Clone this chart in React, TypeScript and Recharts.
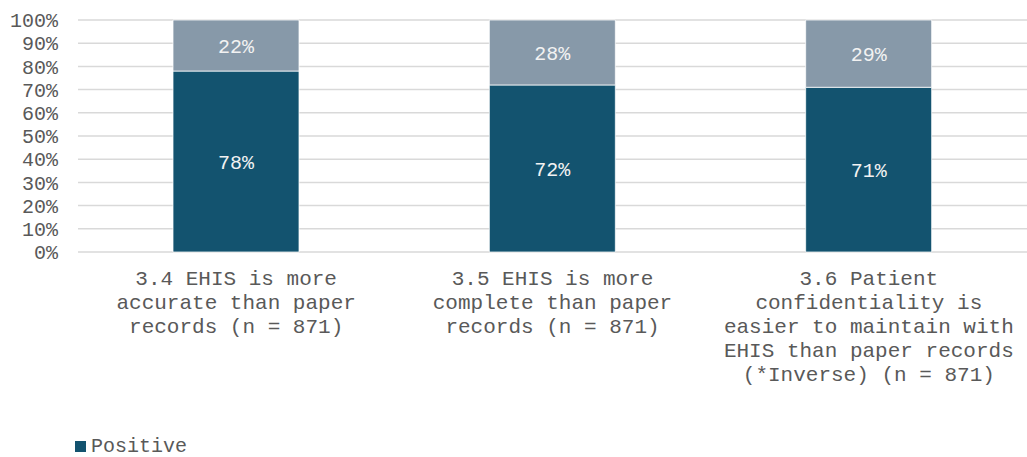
import { BarChart, Bar, XAxis, YAxis, CartesianGrid, LabelList } from "recharts";

const categories = ["3.4", "3.5", "3.6"];
const categoryLabels = [
  ["3.4 EHIS is more", "accurate than paper", "records (n = 871)"],
  ["3.5 EHIS is more", "complete than paper", "records (n = 871)"],
  [
    "3.6 Patient",
    "confidentiality is",
    "easier to maintain with",
    "EHIS than paper records",
    "(*Inverse) (n = 871)",
  ],
];
const positive = [78, 72, 71];
const negative = [22, 28, 29];
const yTicks = [0, 10, 20, 30, 40, 50, 60, 70, 80, 90, 100];

const data = categories.map((c, i) => ({
  name: c,
  Positive: positive[i],
  Negative: negative[i],
}));

const FONT = '"Liberation Mono", "Courier New", monospace';
const TEXT = "#595959";

const CategoryTick = (props: any) => {
  const { x, y, index } = props;
  const lines = categoryLabels[index] || [];
  return (
    <text x={x} y={y} textAnchor="middle" fill={TEXT} fontFamily={FONT} fontSize={21}>
      {lines.map((l: string, i: number) => (
        <tspan key={i} x={x} dy={i === 0 ? 31 : 24}>
          {l}
        </tspan>
      ))}
    </text>
  );
};

export default function App() {
  return (
    <div style={{ position: "absolute", left: 0, top: 0, width: 1027, height: 457, background: "#fff" }}>
      <BarChart
        width={1027}
        height={457}
        data={data}
        margin={{ top: 20, right: 0, bottom: 0, left: 0 }}
      >
        <CartesianGrid vertical={false} stroke="#d9d9d9" strokeWidth={1.5} />
        <XAxis
          dataKey="name"
          axisLine={false}
          tickLine={false}
          tickSize={0}
          tick={<CategoryTick />}
          interval={0}
          height={205}
        />
        <YAxis
          domain={[0, 100]}
          ticks={yTicks}
          interval={0}
          width={78}
          axisLine={false}
          tickLine={false}
          tickSize={0}
          tickMargin={20}
          tickFormatter={(v: number) => `${v}%`}
          tick={{ fill: TEXT, fontFamily: FONT, fontSize: 20 }}
        />
        <Bar dataKey="Positive" stackId="a" fill="#13536f" barSize={126} stroke="#ffffff" strokeWidth={0.75} isAnimationActive={false}>
          <LabelList
            dataKey="Positive"
            position="center"
            formatter={(v: any) => `${v}%`}
            fill="#f2f2f2"
            fontFamily={FONT}
            fontSize={20}
          />
        </Bar>
        <Bar dataKey="Negative" stackId="a" fill="#8799a9" barSize={126} stroke="#ffffff" strokeWidth={0.75} isAnimationActive={false}>
          <LabelList
            dataKey="Negative"
            position="center"
            formatter={(v: any) => `${v}%`}
            fill="#f2f2f2"
            fontFamily={FONT}
            fontSize={20}
          />
        </Bar>
      </BarChart>
      <div
        style={{
          position: "absolute",
          left: 75,
          top: 435,
          display: "flex",
          alignItems: "center",
          fontFamily: FONT,
          fontSize: 20,
          color: TEXT,
        }}
      >
        <span style={{ width: 11, height: 11, background: "#13536f", display: "inline-block", marginRight: 5 }} />
        Positive
      </div>
    </div>
  );
}
